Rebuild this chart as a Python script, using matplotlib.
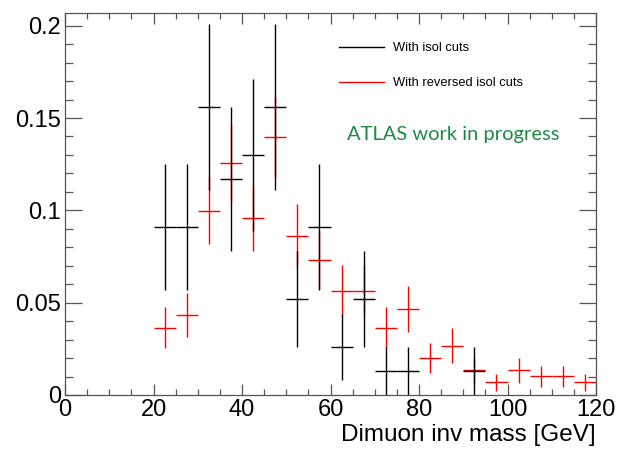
import numpy as np
import matplotlib
matplotlib.use('Agg')
import matplotlib.pyplot as plt
from matplotlib.lines import Line2D
from matplotlib.ticker import MultipleLocator

# histogram bin centres [GeV], bin width 5 GeV
iso_x = [22.5, 27.5, 32.5, 37.5, 42.5, 47.5, 52.5, 57.5, 62.5, 67.5, 72.5, 77.5, 92.5]
iso_y = [0.091, 0.091, 0.156, 0.117, 0.130, 0.156, 0.052, 0.091, 0.026, 0.052, 0.013, 0.013, 0.013]
iso_err = [0.034, 0.034, 0.045, 0.039, 0.041, 0.045, 0.026, 0.034, 0.018, 0.026, 0.013, 0.013, 0.013]

rev_x = [22.5, 27.5, 32.5, 37.5, 42.5, 47.5, 52.5, 57.5, 62.5, 67.5,
         72.5, 77.5, 82.5, 87.5, 92.5, 97.5, 102.5, 107.5, 112.5, 117.5]
rev_y = [0.0365, 0.0433, 0.0998, 0.1258, 0.0960, 0.1396, 0.0863, 0.0730, 0.0565, 0.0565,
         0.0365, 0.0466, 0.0199, 0.0267, 0.0134, 0.0068, 0.0134, 0.0101, 0.0101, 0.0068]
rev_err = [0.0111, 0.0121, 0.0182, 0.0205, 0.0180, 0.0216, 0.0170, 0.0156, 0.0137, 0.0137,
           0.0111, 0.0125, 0.0082, 0.0095, 0.0067, 0.0047, 0.0067, 0.0058, 0.0058, 0.0047]
half_bin = 2.5

plt.rcParams['font.family'] = ['Liberation Sans', 'DejaVu Sans']

fig = plt.figure(figsize=(6.18, 4.49), dpi=100)
ax = fig.add_axes([0.1052, 0.1203, 0.8592, 0.8508])

ax.errorbar(rev_x, rev_y, xerr=half_bin, yerr=rev_err, fmt='none',
            ecolor='red', elinewidth=1.0, capsize=0)
ax.errorbar(iso_x, iso_y, xerr=half_bin, yerr=iso_err, fmt='none',
            ecolor='black', elinewidth=1.0, capsize=0)

ax.set_xlim(0, 120)
ax.set_ylim(0, 0.2069)
ax.xaxis.set_major_locator(MultipleLocator(20))
ax.xaxis.set_minor_locator(MultipleLocator(5))
ax.yaxis.set_major_locator(MultipleLocator(0.05))
ax.yaxis.set_minor_locator(MultipleLocator(0.01))
ax.set_yticks([0, 0.05, 0.1, 0.15, 0.2])
ax.set_yticklabels(['0', '0.05', '0.1', '0.15', '0.2'])

ax.tick_params(axis='both', which='both', direction='in', top=True, right=True,
               labelsize=17, width=0.9, color='#555555')
ax.tick_params(axis='x', which='major', length=8, pad=3)
ax.tick_params(axis='x', which='minor', length=4)
ax.tick_params(axis='y', which='major', length=12, pad=3)
ax.tick_params(axis='y', which='minor', length=6)
for s in ax.spines.values():
    s.set_linewidth(0.9)
    s.set_color('#555555')

fig.text(596 / 618, 8 / 449, 'Dimuon inv mass [GeV]', ha='right', va='baseline', fontsize=17.5)

handles = [Line2D([], [], color='black', lw=1.0), Line2D([], [], color='red', lw=1.0)]
ax.legend(handles, ['With isol cuts', 'With reversed isol cuts'], loc='upper left',
          bbox_to_anchor=(0.516, 0.923), frameon=False, fontsize=9.3,
          handlelength=3.5, handletextpad=0.7, labelspacing=1.78,
          borderpad=0, borderaxespad=0)

ax.text(0.531, 0.681, 'ATLAS work in progress', transform=ax.transAxes,
        color='#1e8a46', fontsize=14.5, family=['Lato', 'DejaVu Sans'],
        ha='left', va='center')

fig.savefig('out.png', dpi=100)
